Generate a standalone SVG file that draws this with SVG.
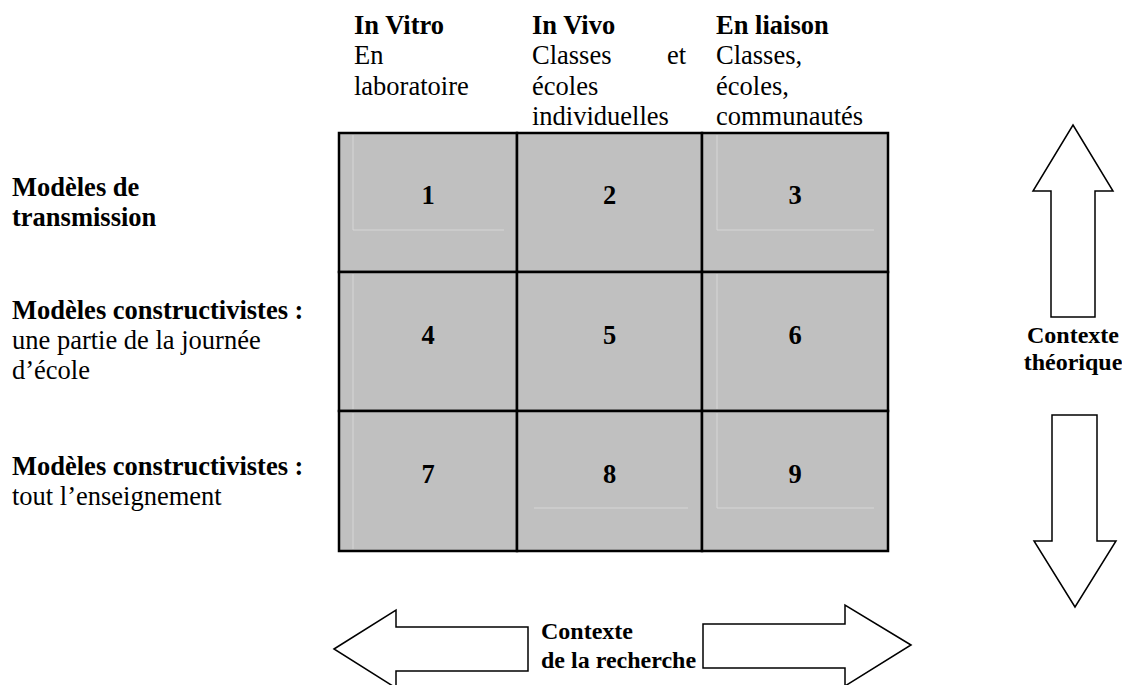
<svg xmlns="http://www.w3.org/2000/svg" width="1122" height="685" viewBox="0 0 1122 685">
<style>
.b{font-family:"Liberation Serif","Times New Roman",serif;font-weight:bold;font-size:26.5px;fill:#000}
.r{font-family:"Liberation Serif","Times New Roman",serif;font-size:26.5px;fill:#000}
.a{font-family:"Liberation Serif","Times New Roman",serif;font-weight:bold;font-size:24px;fill:#000}
.n{font-family:"Liberation Serif","Times New Roman",serif;font-weight:bold;font-size:26.5px;fill:#000;text-anchor:middle}
.cell{fill:#c0c0c0;stroke:#000;stroke-width:2.5}
.faint{stroke:#d6d6d6;stroke-width:1;fill:none}
.arrow{fill:#fff;stroke:#000;stroke-width:1.5;stroke-linejoin:miter}
</style>
<rect width="1122" height="685" fill="#fff"/>
<g id="headers">
<text class="b" x="354" y="34">In Vitro</text>
<text class="r" x="354" y="64">En</text>
<text class="r" x="354" y="95">laboratoire</text>
<text class="b" x="532" y="34">In Vivo</text>
<text class="r" x="532" y="64">Classes</text>
<text class="r" x="686" y="64" text-anchor="end">et</text>
<text class="r" x="532" y="95">écoles</text>
<text class="r" x="532" y="125">individuelles</text>
<text class="b" x="716" y="34">En liaison</text>
<text class="r" x="716" y="64">Classes,</text>
<text class="r" x="716" y="95">écoles,</text>
<text class="r" x="716" y="125">communautés</text>
</g>
<g id="row-labels">
<text class="b" x="12" y="196">Modèles de</text>
<text class="b" x="12" y="226">transmission</text>
<text class="b" x="12" y="319">Modèles constructivistes :</text>
<text class="r" x="12" y="349">une partie de la journée</text>
<text class="r" x="12" y="379">d’école</text>
<text class="b" x="12" y="475">Modèles constructivistes :</text>
<text class="r" x="12" y="505">tout l’enseignement</text>
</g>
<g id="cell1"><rect class="cell" x="339" y="133" width="178" height="139"/><path class="faint" d="M353 135V230H504"/><text class="n" x="428" y="204">1</text></g>
<g id="cell2"><rect class="cell" x="517" y="133" width="185" height="139"/><text class="n" x="609.5" y="204">2</text></g>
<g id="cell3"><rect class="cell" x="702" y="133" width="186" height="139"/><path class="faint" d="M717 135V230H874"/><text class="n" x="795" y="204">3</text></g>
<g id="cell4"><rect class="cell" x="339" y="272" width="178" height="139"/><path class="faint" d="M353 274V409"/><text class="n" x="428" y="344">4</text></g>
<g id="cell5"><rect class="cell" x="517" y="272" width="185" height="139"/><text class="n" x="609.5" y="344">5</text></g>
<g id="cell6"><rect class="cell" x="702" y="272" width="186" height="139"/><path class="faint" d="M717 274V409"/><text class="n" x="795" y="344">6</text></g>
<g id="cell7"><rect class="cell" x="339" y="411" width="178" height="140"/><path class="faint" d="M353 413V549"/><text class="n" x="428" y="483">7</text></g>
<g id="cell8"><rect class="cell" x="517" y="411" width="185" height="140"/><path class="faint" d="M534 508H688"/><text class="n" x="609.5" y="483">8</text></g>
<g id="cell9"><rect class="cell" x="702" y="411" width="186" height="140"/><path class="faint" d="M717 413V508H874"/><text class="n" x="795" y="483">9</text></g>
<g id="connectors">
<polygon class="arrow" points="1073,125 1113,191 1095,191 1095,317 1051,317 1051,191 1033,191"/>
<polygon class="arrow" points="1052,415 1097,415 1097,541 1116,541 1075,607 1034,541 1052,541"/>
<polygon class="arrow" points="334,649 396,610 396,627 528,627 528,671 396,671 396,688"/>
<polygon class="arrow" points="911,645 845,605 845,624 703,624 703,668 845,668 845,686"/>
</g>
<g id="label-theorique">
<text class="a" x="1073" y="343" text-anchor="middle">Contexte</text>
<text class="a" x="1073" y="370" text-anchor="middle">théorique</text>
</g>
<g id="label-recherche">
<text class="a" x="541" y="639">Contexte</text>
<text class="a" x="541" y="668">de la recherche</text>
</g>
</svg>
